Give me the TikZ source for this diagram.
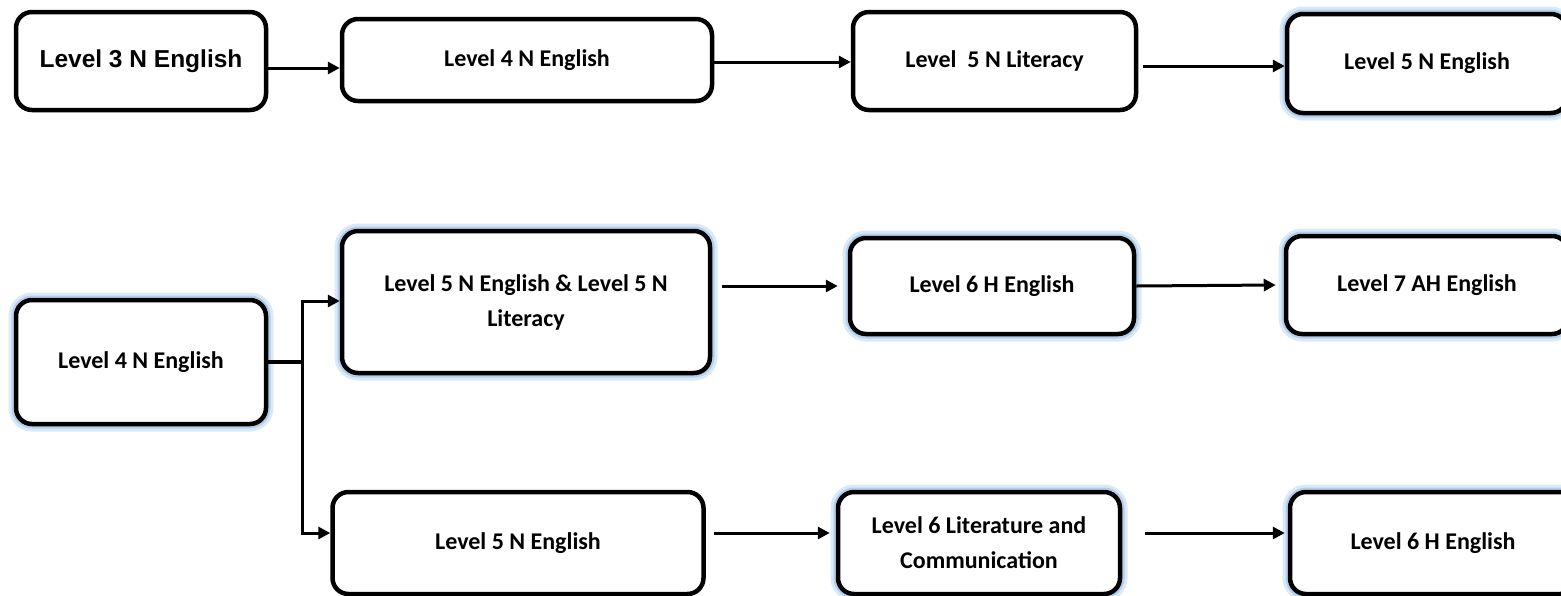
\documentclass[tikz,border=0pt]{standalone}
\usepackage{fontspec}
\setmainfont{Carlito}
\newfontfamily\arialfont{Liberation Sans}
\usetikzlibrary{arrows.meta}
\definecolor{glowBlue}{rgb}{0.60, 0.75, 0.90}

\begin{document}
\begin{tikzpicture}[x=1pt, y=-1pt,
        box/.style={draw, fill=white, line width=4.5pt, rounded corners=16pt, align=center,
            inner sep=0pt, font=\bfseries\fontsize{24}{35}\selectfont},
        glow/.style={preaction={draw=glowBlue!35, line width=15pt},
            preaction={draw=glowBlue!75, line width=9pt}},
        arr/.style={-{Triangle[length=12pt,width=12pt]}, line width=3pt}]

        \useasboundingbox (0,0) rectangle (1561,595);

        % top row
        \node[box, minimum width=250pt, minimum height=98pt,
            font=\arialfont\bfseries\fontsize{24.5}{28}\selectfont] (l3n) at (141,61) {Level 3 N English};
        \node[box, minimum width=370pt, minimum height=82pt] (l4n) at (527,60) {Level 4 N English};
        \node[box, minimum width=283pt, minimum height=98pt] (l5lit) at (994.5,61) {Level\ \ 5 N Literacy};
        \node[box, glow, minimum width=280pt, minimum height=99pt] (l5eng) at (1427,63.5) {Level 5 N English};

        \draw[arr] ([yshift=-7pt]l3n.east) -- ([yshift=-8pt]l4n.west);
        \draw[arr] ([yshift=-2pt]l4n.east) -- ([yshift=-1pt]l5lit.west);
        \draw[arr] ([xshift=5pt,yshift=-5pt]l5lit.east) -- ([yshift=-2.5pt]l5eng.west);

        % start box
        \node[box, glow, minimum width=250pt, minimum height=124pt] (l4nb) at (141,362) {Level 4 N English};

        % middle row
        \node[box, glow, minimum width=368pt, minimum height=142pt] (l5both) at (526,302)
            {Level 5 N English \& Level 5 N\\Literacy};
        \node[box, glow, minimum width=284pt, minimum height=96pt] (l6h) at (992,286) {Level 6 H English};
        \node[box, glow, minimum width=282pt, minimum height=98pt] (l7ah) at (1427,285) {Level 7 AH English};

        % bottom row
        \node[box, minimum width=371pt, minimum height=102pt] (l5engb) at (518,543) {Level 5 N English};
        \node[box, glow, minimum width=282pt, minimum height=102pt] (l6lit) at (979,543)
            {Level 6 Literature and\\Communication};
        \node[box, glow, minimum width=286pt, minimum height=102pt] (l6hb) at (1433,543) {Level 6 H English};

        % split
        \coordinate (split) at (302,362);
        \draw[line width=4.5pt] (l4nb.east) -- (split);
        \draw[arr] ([yshift=-2pt]split) |- ([yshift=1pt]l5both.west);
        \draw[arr] ([yshift=2pt]split) |- ([yshift=10pt]l5engb.west);

        \draw[arr] ([xshift=10pt,yshift=16pt]l5both.east) -- ([xshift=-10pt]l6h.west);
        \draw[arr] (l6h.east) -- ([xshift=-8pt]l7ah.west);
        \draw[arr] ([xshift=8pt,yshift=10pt]l5engb.east) -- ([xshift=-6pt,yshift=10pt]l6lit.west);
        \draw[arr] ([xshift=23pt,yshift=10pt]l6lit.east) -- ([xshift=-3pt,yshift=10pt]l6hb.west);

    \end{tikzpicture}
\end{document}
